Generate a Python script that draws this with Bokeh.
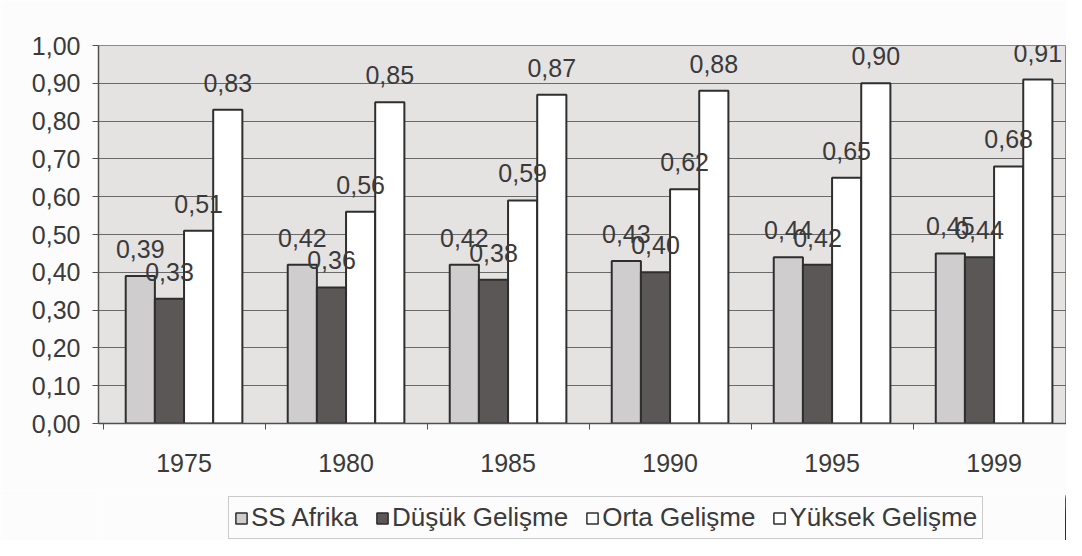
from bokeh.plotting import figure
from bokeh.layouts import column
from bokeh.models import (ColumnDataSource, Range1d, FixedTicker, CustomJSTickFormatter,
                          Legend, LegendItem)
from bokeh.transform import dodge
from bokeh.core.properties import value
from bokeh.embed import file_html
from bokeh.resources import INLINE

years = ["1975", "1980", "1985", "1990", "1995", "1999"]
series = ["SS Afrika", "Düşük Gelişme", "Orta Gelişme", "Yüksek Gelişme"]
ss_afrika = [0.39, 0.42, 0.42, 0.43, 0.44, 0.45]
dusuk = [0.33, 0.36, 0.38, 0.40, 0.42, 0.44]
orta = [0.51, 0.56, 0.59, 0.62, 0.65, 0.68]
yuksek = [0.83, 0.85, 0.87, 0.88, 0.90, 0.91]
y_ticks = [round(i / 10, 1) for i in range(11)]

FONT = "Liberation Sans"
TXT = "#3a3a3a"
FS = "25px"
BG = "#fcfcfc"

idx = list(range(len(years)))
data = {"x": idx}
for key, vals in zip(["s0", "s1", "s2", "s3"], [ss_afrika, dusuk, orta, yuksek]):
    data[key] = vals
    data[key + "_lbl"] = [f"{v:.2f}".replace(".", ",") for v in vals]
src = ColumnDataSource(data)

p = figure(width=1066, height=490, output_backend="svg", toolbar_location=None,
           x_range=Range1d(-0.528, 5.447), y_range=Range1d(0, 1),
           min_border_left=98, min_border_right=0, min_border_top=45, min_border_bottom=67)
p.background_fill_color = "#e5e2e2"
p.border_fill_color = BG
p.outline_line_color = "#8a8a8a"

# grid
p.xgrid.grid_line_color = None
p.ygrid.ticker = FixedTicker(ticks=y_ticks)
p.ygrid.grid_line_color = "#6a6a6a"
p.ygrid.grid_line_width = 1

# axes
p.yaxis.ticker = FixedTicker(ticks=y_ticks)
p.yaxis.formatter = CustomJSTickFormatter(code="return tick.toFixed(2).replace('.', ',');")
p.yaxis.major_tick_out = 6
p.yaxis.major_tick_in = 0
p.yaxis.major_tick_line_color = "#505050"
p.yaxis.minor_tick_line_color = None
p.yaxis.major_label_standoff = 12

p.xaxis.ticker = FixedTicker(ticks=idx, minor_ticks=[i - 0.5 for i in range(len(years) + 1)])
p.xaxis.major_label_overrides = {i: y for i, y in enumerate(years)}
p.xaxis.major_tick_line_color = None
p.xaxis.minor_tick_line_color = "#505050"
p.xaxis.minor_tick_out = 6
p.xaxis.minor_tick_in = 0
p.xaxis.major_label_standoff = 24

for ax in (p.xaxis, p.yaxis):
    ax.axis_line_color = "#505050"
    ax.axis_line_width = 1.5
    ax.major_label_text_font = FONT
    ax.major_label_text_font_size = FS
    ax.major_label_text_color = TXT

fills = ["#cfcdcd", "#5c5757", "#ffffff", "#ffffff"]
offsets = [-0.27, -0.09, 0.09, 0.27]
w = 0.18
for i, (fc, off) in enumerate(zip(fills, offsets)):
    key = f"s{i}"
    p.vbar(x=dodge("x", off, range=p.x_range), top=key, width=w, source=src,
           fill_color=fc, line_color="#2e2e2e", line_width=2)

for i, off in enumerate(offsets):
    key = f"s{i}"
    p.text(x=dodge("x", off, range=p.x_range), y=key, text=key + "_lbl", source=src,
           text_font=value(FONT), text_font_size=FS, text_color=TXT,
           text_align="center", text_baseline="alphabetic", y_offset=-27)

# legend strip below the chart (its frame is aligned with the chart's frame)
lg = figure(width=1066, height=50, output_backend="svg", toolbar_location=None,
            x_range=Range1d(-100, -99), y_range=Range1d(0, 1),
            x_axis_location=None, y_axis_location=None, min_border=0)
lg.grid.visible = False
lg.outline_line_color = None
lg.background_fill_color = BG
lg.border_fill_color = BG
items = []
for i, (name, fc) in enumerate(zip(series, fills)):
    r = lg.vbar(x="x", top=f"s{i}", width=w, source=src,
                fill_color=fc, line_color="#2e2e2e", line_width=1.5)
    items.append(LegendItem(label=name, renderers=[r]))

legend = Legend(items=items, orientation="horizontal", location=(130, 1),
                label_text_font=FONT, label_text_font_size="26px", label_text_color=TXT,
                glyph_width=14, glyph_height=14, spacing=17, label_standoff=3,
                padding=5, margin=0,
                border_line_color="#9a9a9a", border_line_width=1,
                background_fill_color=BG, background_fill_alpha=1)
lg.add_layout(legend, "center")

open("out.html", "w").write(file_html(column(p, lg, spacing=0), INLINE))
